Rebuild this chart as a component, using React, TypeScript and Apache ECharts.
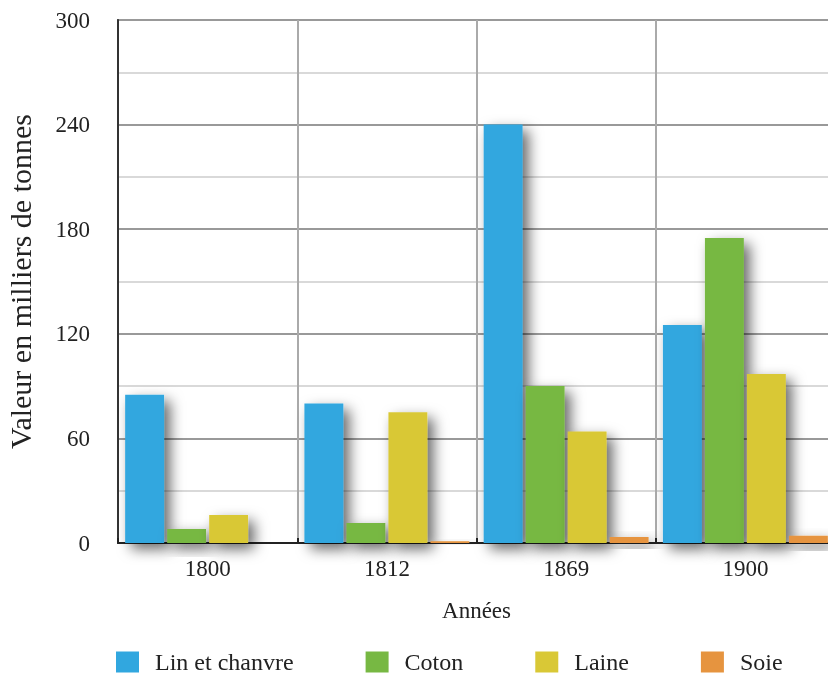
import React, { useEffect, useRef } from "react";
import * as echarts from "echarts";

const years = ["1800", "1812", "1869", "1900"];
const linChanvre = [85, 80, 240, 125];
const coton = [8, 11.5, 90, 175];
const laine = [16, 75, 64, 97];
const soie = [0, 1, 3.4, 4.2];
const seriesNames = ["Lin et chanvre", "Coton", "Laine", "Soie"];
const colors = ["#31a7df", "#77b843", "#d9c836", "#e6943f"];

const FONT = "Liberation Serif";

export default function App() {
  const ref = useRef<HTMLDivElement>(null);
  useEffect(() => {
    if (!ref.current) return;
    const chart = echarts.init(ref.current, null, { renderer: "svg" });
    const data = [linChanvre, coton, laine, soie];
    chart.setOption({
      animation: false,
      textStyle: { fontFamily: FONT, color: "#222" },
      grid: {
        left: 118,
        top: 20,
        width: 717,
        height: 523,
        outerBoundsMode: "none",
        containLabel: false,
        show: true,
        borderColor: "#333",
        borderWidth: 1.5,
      },
      legend: {
        left: 111,
        top: 645,
        itemWidth: 23,
        itemHeight: 21,
        itemGap: 72,
        icon: "rect",
        data: seriesNames,
        textStyle: { fontFamily: FONT, fontSize: 24, color: "#222", padding: [0, 0, 0, 11] },
      },
      xAxis: {
        type: "category",
        data: years,
        name: "Années",
        nameLocation: "middle",
        nameGap: 56,
        nameTextStyle: { fontFamily: FONT, fontSize: 23, color: "#222" },
        axisLine: { lineStyle: { color: "#222", width: 2 } },
        axisTick: { show: true, inside: true, length: 5, lineStyle: { color: "#222", width: 2 } },
        axisLabel: { fontFamily: FONT, fontSize: 23, color: "#222", margin: 14 },
        splitLine: { show: true, lineStyle: { color: "#aaa", width: 2 } },
      },
      yAxis: {
        type: "value",
        min: 0,
        max: 300,
        interval: 60,
        name: "Valeur en milliers de tonnes",
        nameLocation: "middle",
        nameGap: 83,
        nameTextStyle: { fontFamily: FONT, fontSize: 30, color: "#222" },
        axisLine: { show: true, lineStyle: { color: "#333", width: 2 } },
        axisTick: { show: false },
        axisLabel: { fontFamily: FONT, fontSize: 23, color: "#222", margin: 28 },
        splitLine: { show: true, lineStyle: { color: "#999", width: 2 } },
        minorTick: { show: false, splitNumber: 2 },
        minorSplitLine: { show: true, lineStyle: { color: "#ccc", width: 1.5 } },
      },
      series: seriesNames.map((name, i) => ({
        name,
        type: "bar",
        data: data[i],
        barGap: "8%",
        barCategoryGap: "8%",
        itemStyle: {
          color: colors[i],
          shadowColor: "rgba(0,0,0,0.6)",
          shadowBlur: 14,
          shadowOffsetX: 6,
          shadowOffsetY: 6,
        },
      })),
    });
    return () => chart.dispose();
  }, []);
  return (
    <div
      ref={ref}
      style={{ position: "fixed", left: 0, top: 0, width: 828, height: 675 }}
    />
  );
}
